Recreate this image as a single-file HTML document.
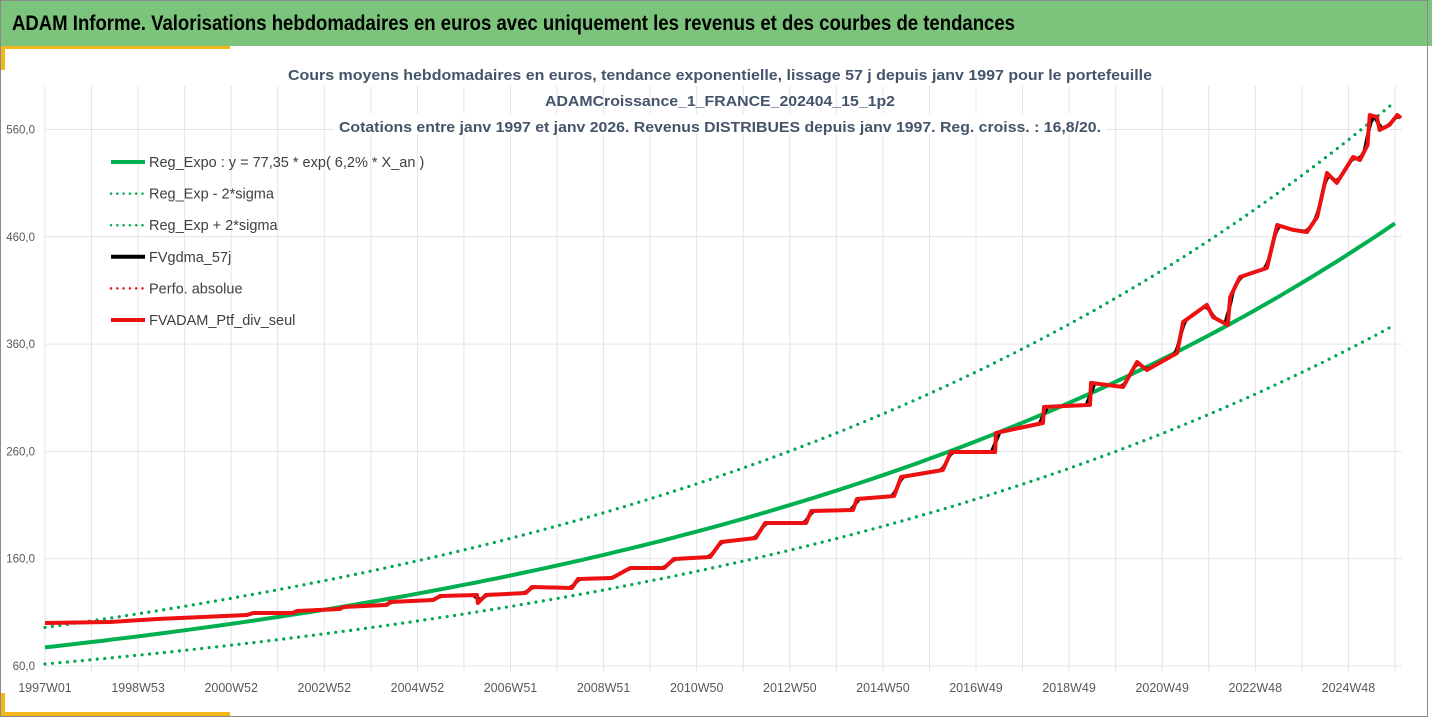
<!DOCTYPE html>
<html><head><meta charset="utf-8">
<style>
html,body{margin:0;padding:0;background:#fff;}
body{width:1432px;height:718px;overflow:hidden;font-family:"Liberation Sans",sans-serif;}
svg{display:block;}
</style></head>
<body>
<svg id="chart" width="1432" height="718" viewBox="0 0 1432 718" xmlns="http://www.w3.org/2000/svg">
  <rect x="0" y="0" width="1432" height="718" fill="#fff"/>
  <rect x="0" y="0" width="1432" height="46" fill="#7cc47b"/>
  <text x="12" y="30" font-size="21" font-weight="bold" fill="#000" textLength="1003" lengthAdjust="spacingAndGlyphs">ADAM Informe. Valorisations hebdomadaires en euros avec uniquement les revenus et des courbes de tendances</text>
  <rect x="0" y="46" width="230" height="3" fill="#f4b71a"/>
  <rect x="0" y="46" width="5" height="24" fill="#f4b71a"/>
  <rect x="0" y="693" width="5" height="24" fill="#f4b71a"/>
  <rect x="0" y="712" width="230" height="5" fill="#f4b71a"/>
  <rect x="0.5" y="0.5" width="1427" height="716" fill="none" stroke="#8a8a8a" stroke-width="1"/>
  <g id="grid"></g>
  <g id="axes"></g>
  <g id="series"></g>
  <g font-size="15" font-weight="bold" fill="#44546a" text-anchor="middle">
    <rect x="334" y="114" width="772" height="20" fill="#fff"/>
    <text x="720" y="80" textLength="864" lengthAdjust="spacingAndGlyphs">Cours moyens hebdomadaires  en euros, tendance exponentielle, lissage 57 j depuis janv 1997 pour le portefeuille</text>
    <text x="720" y="106" textLength="350" lengthAdjust="spacingAndGlyphs">ADAMCroissance_1_FRANCE_202404_15_1p2</text>
    <text x="720" y="132" textLength="762" lengthAdjust="spacingAndGlyphs">Cotations entre janv 1997 et janv 2026. Revenus DISTRIBUES depuis janv 1997. Reg. croiss. : 16,8/20.</text>
  </g>
  <g id="legend"></g>
</svg>
<script>
// ---- data ----
const yTicks = [60, 160, 260, 360, 460, 560];
const yTickLabels = ["60,0", "160,0", "260,0", "360,0", "460,0", "560,0"];
const xTickYears = [0, 2, 4, 6, 8, 10, 12, 14, 16, 18, 20, 22, 24, 26, 28];
const xTickLabels = ["1997W01","1998W53","2000W52","2002W52","2004W52","2006W51","2008W51","2010W50","2012W50","2014W50","2016W49","2018W49","2020W49","2022W48","2024W48"];
const regCoef = [77.35, 0.0624];
const sigmaFactors = [0.80, 1.24];
// portfolio: years since Jan 1997, value in euros
const ptfYears = [0,1.40,2.41,3.39,4.34,4.47,5.33,5.41,6.34,6.40,7.35,7.41,8.34,8.49,9.28,9.30,9.47,10.33,10.46,11.32,11.45,12.18,12.57,13.30,13.51,14.29,14.52,15.27,15.47,16.35,16.46,17.36,17.44,18.24,18.39,19.29,19.46,20.41,20.43,21.44,21.46,22.45,22.47,23.16,23.46,23.67,24.32,24.45,24.96,25.09,25.41,25.46,25.67,26.25,26.47,26.81,27.11,27.33,27.54,27.75,28.10,28.25,28.41,28.46,28.61,28.67,28.88,29.05,29.13];
const ptfValues = [100.1,101,103.8,105.7,107.5,109.4,109.4,111.3,113.1,115,116.9,119.6,121.5,125.2,126.2,118.7,126.2,128,133.6,132.7,141.1,142,151.3,151.3,159.7,161.6,175.6,179.3,193.3,193.3,204.5,205.4,215.6,218.4,236.1,242.7,259.4,259.4,277.2,286.5,301.4,303.3,323.8,320,343.3,335.9,351.7,380.6,396.5,385.3,377.8,403.9,422.5,430.9,471,466.4,464.5,478.5,519.5,510.2,534.4,531.6,545.6,573.5,571.7,559.6,564.2,573.5,570.7];

// ---- axes ----
const X0 = 45, PXY = 46.55, Y0 = 666, PXV = 1.073;
const xs = t => X0 + t * PXY;
const ys = v => Y0 - (v - 60) * PXV;
const NS = "http://www.w3.org/2000/svg";
function mk(tag, attrs, parent){const e=document.createElementNS(NS,tag);for(const k in attrs)e.setAttribute(k,attrs[k]);parent.appendChild(e);return e;}
const grid = document.getElementById('grid'), axes = document.getElementById('axes'), series = document.getElementById('series');
const tEnd = 29.15;
for (let yr = 0; yr <= 29; yr++) {
  const l = mk('line',{x1:xs(yr),x2:xs(yr),y1:86,y2:Y0+6,stroke:'#e3e4e8','stroke-width':1},grid);
  
  
}
yTicks.forEach((v,i)=>{
  const l = mk('line',{x1:X0,x2:xs(tEnd),y1:ys(v),y2:ys(v),stroke:'#e3e4e8','stroke-width':1},grid);
  
  
  const t = mk('text',{x:35,y:ys(v)+4,'font-size':11.5,fill:'#595959','text-anchor':'end'},axes);
  t.textContent = yTickLabels[i];
  
  
});
xTickYears.forEach((yr,i)=>{
  const t = mk('text',{x:xs(yr),y:692,'font-size':12.5,fill:'#595959','text-anchor':'middle'},axes);
  t.textContent = xTickLabels[i];
  
  
});

// ---- trend lines ----
function trendPath(f){let d='';for(let t=0;t<=tEnd+0.001;t+=0.25){d+=(d?'L':'M')+xs(t).toFixed(1)+','+ys(f*regCoef[0]*Math.exp(regCoef[1]*t)).toFixed(1);}return d;}
const low = mk('path',{d:trendPath(sigmaFactors[0]),fill:'none',stroke:'#00a651','stroke-width':3.2,'stroke-dasharray':'0 7.5','stroke-linecap':'round'},series);


const high = mk('path',{d:trendPath(sigmaFactors[1]),fill:'none',stroke:'#00a651','stroke-width':3.2,'stroke-dasharray':'0 7.5','stroke-linecap':'round'},series);


const reg = mk('path',{d:trendPath(1),fill:'none',stroke:'#00b050','stroke-width':4},series);



// ---- portfolio & moving average ----
function interp(t){for(let i=1;i<ptfYears.length;i++){if(t<=ptfYears[i]){const a=ptfYears[i-1],b=ptfYears[i];const r=b>a?(t-a)/(b-a):0;return ptfValues[i-1]+r*(ptfValues[i]-ptfValues[i-1]);}}return ptfValues[ptfValues.length-1];}
let dm='';
const tLast = ptfYears[ptfYears.length-1];
for(let t=0;t<=tLast;t+=1/52){let s=0,n=0;for(let k=-0.08;k<=0.0801;k+=0.02){const tt=Math.min(tLast,Math.max(0,t+k));s+=interp(tt);n++;}dm+=(dm?'L':'M')+xs(t).toFixed(1)+','+ys(s/n).toFixed(1);}
const ma = mk('path',{d:dm,fill:'none',stroke:'#000','stroke-width':3.5,'stroke-linejoin':'round'},series);


let dp='';
ptfYears.forEach((t,i)=>{dp+=(i?'L':'M')+xs(t).toFixed(1)+','+ys(ptfValues[i]).toFixed(1);});
const ptf = mk('path',{d:dp,fill:'none',stroke:'#ee1111','stroke-width':4,'stroke-linejoin':'round'},series);



// ---- legend ----
const legendNames = ["Reg_Expo : y = 77,35 * exp( 6,2% *  X_an )","Reg_Exp - 2*sigma","Reg_Exp + 2*sigma","FVgdma_57j","Perfo. absolue","FVADAM_Ptf_div_seul"];
const legendColors = ["#00b050","#00a651","#00a651","#000","#ee1111","#ee1111"];
const legendDotted = [false,true,true,false,true,false];
const lg = document.getElementById('legend');
legendNames.forEach((nm,i)=>{
  const y = 162 + i*31.6;
  const g = mk('g',{},lg);
  
  
  const a = legendDotted[i] ? {'stroke-width':2.5,'stroke-dasharray':'0 6.3','stroke-linecap':'round'} : {'stroke-width':4};
  mk('line',Object.assign({x1:111,x2:145,y1:y,y2:y,stroke:legendColors[i]},a),g);
  const t = mk('text',{x:149,y:y+5,'font-size':14.5,fill:'#404040'},g);
  t.textContent = nm;
});
</script>
</body></html>
